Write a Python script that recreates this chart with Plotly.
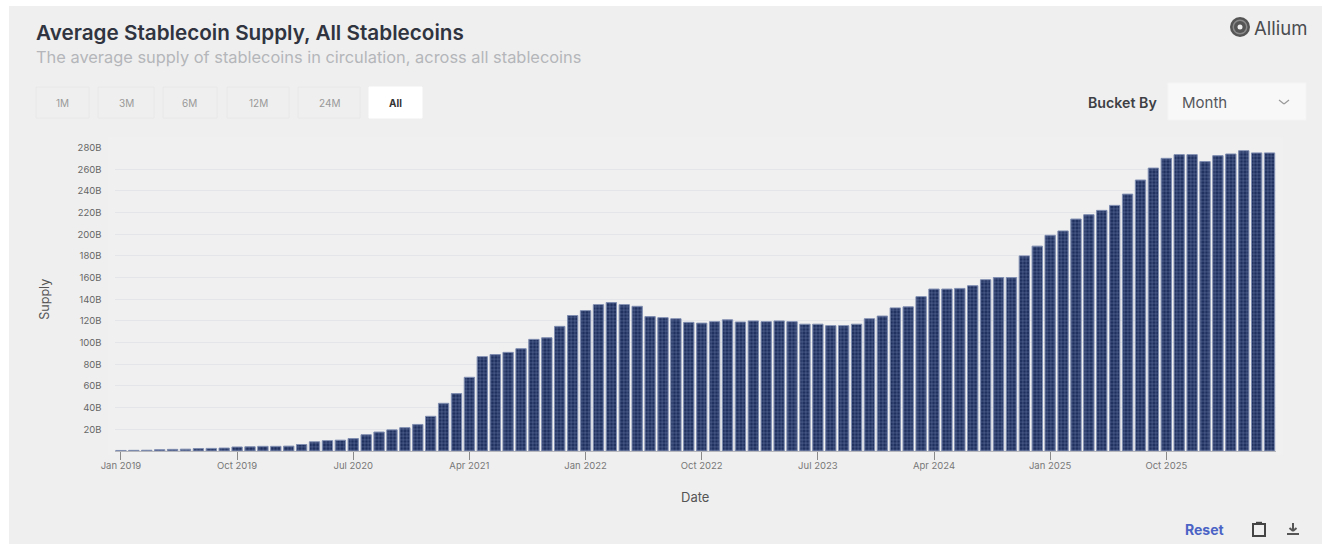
import plotly.graph_objects as go

W, H = 1322, 544

years = ["2019", "2020", "2021", "2022", "2023", "2024", "2025", "2026"]
month_names = ["Jan", "Feb", "Mar", "Apr", "May", "Jun", "Jul", "Aug", "Sep", "Oct", "Nov", "Dec"]
months = [f"{m} {y}" for y in years for m in month_names][:90]

supply = [
    0.5, 0.6, 0.7, 1.2, 1.5, 1.7, 2.2, 2.4, 2.7, 3.7, 3.9, 4.3,
    4.3, 4.5, 6.0, 8.5, 9.5, 10.0, 11.5, 15.0, 17.5, 19.5, 21.5, 24.5,
    32.0, 44.0, 53.0, 68.0, 87.0, 89.0, 91.0, 94.4, 103.0, 104.5, 115.0, 125.0,
    129.5, 135.0, 137.0, 135.0, 133.5, 124.0, 123.0, 122.0, 118.7, 118.0, 119.3, 121.0,
    119.0, 120.0, 119.3, 120.0, 119.3, 117.0, 117.0, 115.6, 115.6, 117.0, 122.0, 124.5,
    132.0, 133.0, 142.4, 149.4, 149.4, 150.0, 152.5, 158.0, 160.0, 160.0, 180.0, 189.0,
    199.0, 203.0, 214.0, 218.0, 222.0, 226.6, 237.0, 250.0, 261.0, 270.0, 273.4, 273.4,
    267.0, 272.5, 274.0, 277.0, 275.0, 275.0,
]

x_tick_labels = ["Jan 2019", "Oct 2019", "Jul 2020", "Apr 2021", "Jan 2022",
                 "Oct 2022", "Jul 2023", "Apr 2024", "Jan 2025", "Oct 2025"]
y_tick_values = [20, 40, 60, 80, 100, 120, 140, 160, 180, 200, 220, 240, 260, 280]
y_tick_labels = ["20B", "40B", "60B", "80B", "100B", "120B", "140B", "160B",
                 "180B", "200B", "220B", "240B", "260B", "280B"]
range_buttons = ["1M", "3M", "6M", "12M", "24M", "All"]

FONT = "Inter"
CARD = "#efefef"
PLOT = "#f0f0f0"


def px(x):
    return x / W


def py(y):
    return 1 - y / H


def rect(x0, y0, x1, y1, fill, line="rgba(0,0,0,0)", width=1, layer="below"):
    return dict(type="rect", xref="paper", yref="paper", x0=px(x0), x1=px(x1),
                y0=py(y1), y1=py(y0), fillcolor=fill, line=dict(color=line, width=width),
                layer=layer)


def seg(x0, y0, x1, y1, color="#555555", width=1.6):
    return dict(type="line", xref="paper", yref="paper", x0=px(x0), x1=px(x1),
                y0=py(y0), y1=py(y1), line=dict(color=color, width=width), layer="above")


def circle(cx, cy, r, fill, line="rgba(0,0,0,0)", width=1):
    return dict(type="circle", xref="paper", yref="paper", x0=px(cx - r), x1=px(cx + r),
                y0=py(cy + r), y1=py(cy - r), fillcolor=fill,
                line=dict(color=line, width=width), layer="above")


def text(x, y, s, size, color, anchor="left", weight=400):
    return dict(xref="paper", yref="paper", x=px(x), y=py(y), text=s, showarrow=False,
                xanchor=anchor, yanchor="middle",
                font=dict(family=FONT, size=size, color=color, weight=weight))


fig = go.Figure(go.Bar(
    x=months, y=supply,
    marker=dict(color="#1e2f5e", line=dict(width=1, color="#7f8db0"),
                pattern=dict(shape="+", fgcolor="#6f80a8", bgcolor="#1e2f5e",
                             size=3.5, solidity=0.25, fillmode="replace")),
    width=0.8,
))

shapes = [rect(9, 6, W, H, CARD), rect(108, 137, 1283, 455, PLOT)]
button_x = [(36, 89), (98, 154), (163, 217), (227, 289), (298, 360), (369, 422)]
annotations = [
    text(34, 32, "Average Stablecoin Supply, All Stablecoins", 20.7, "#2f3440", weight=600),
    text(34, 57, "The average supply of stablecoins in circulation, across all stablecoins",
         16.4, "#b4b6ba"),
]
for label, (x0, x1) in zip(range_buttons, button_x):
    active = label == "All"
    shapes.append(rect(x0, 87, x1, 118, "#ffffff" if active else CARD,
                       "#ffffff" if active else "#e8e8e8"))
    annotations.append(text((x0 + x1) / 2, 103, label, 10,
                            "#333333" if active else "#999999", "center",
                            700 if active else 400))

shapes.append(rect(1168, 83, 1306, 120, "#f8f8f8", "#f4f4f4"))
annotations += [
    text(1159, 102, "Bucket By", 14.2, "#3d3f45", "right", 600),
    text(1180, 102, "Month", 15, "#55575c"),
    text(1252, 28, "Allium", 18.5, "#4a4c50"),
    text(1204, 529, "Reset", 14, "#4a63c5", "center", 700),
]
shapes += [seg(1279, 100, 1284, 104, "#999999", 1.2), seg(1284, 104, 1289, 100, "#999999", 1.2)]
# Allium logo
shapes += [circle(1240, 27, 10, "#555555"), circle(1240, 27, 7.5, "#8a8a8a"),
           circle(1240, 27, 6, "#555555"), circle(1240, 27, 2.5, CARD)]
# clipboard icon
shapes += [
    rect(1253, 524, 1265, 536, "rgba(0,0,0,0)", "#444444", 2, "above"),
    seg(1256, 523, 1262, 523, "#444444", 2.4),
]
# download icon
shapes += [
    seg(1293, 523, 1293, 531, "#555555", 2),
    seg(1289.5, 528, 1293, 531, "#555555", 2),
    seg(1296.5, 528, 1293, 531, "#555555", 2),
    seg(1287, 534, 1299, 534, "#555555", 2),
]

fig.update_layout(
    width=W, height=H, margin=dict(l=0, r=0, t=0, b=0, autoexpand=False),
    paper_bgcolor="#ffffff", plot_bgcolor="rgba(0,0,0,0)",
    showlegend=False, shapes=shapes, annotations=annotations,
    font=dict(family=FONT),
    xaxis=dict(domain=[px(114.5), px(1276)], type="category", categoryorder="array",
               categoryarray=months, range=[-0.5, 89.5],
               tickmode="array", tickvals=x_tick_labels, ticktext=x_tick_labels,
               ticks="outside", ticklen=8, tickcolor="#8a8a8a", tickwidth=1,
               tickfont=dict(size=9.5, color="#777777", family=FONT), tickangle=0,
               ticklabelstandoff=-2,
               showgrid=False, showline=True, linecolor="#b5b7bc", linewidth=1, zeroline=False,
               title=dict(text="Date", font=dict(size=13, color="#555555", family=FONT), standoff=22),
               automargin=False),
    yaxis=dict(domain=[py(451), py(147.5)], range=[0, 280],
               tickmode="array", tickvals=y_tick_values, ticktext=y_tick_labels,
               ticks="", tickfont=dict(size=9.5, color="#666666", family=FONT),
               showgrid=True, gridcolor="#e3e5e9", gridwidth=1, zeroline=False, showline=False,
               ticklabelstandoff=12,
               title=dict(text="Supply", font=dict(size=12.5, color="#555555", family=FONT), standoff=25),
               automargin=False),
    bargap=0.2,
)

fig.write_html("out.html", config={"displayModeBar": False},
               post_script="document.body.style.margin='0';")
